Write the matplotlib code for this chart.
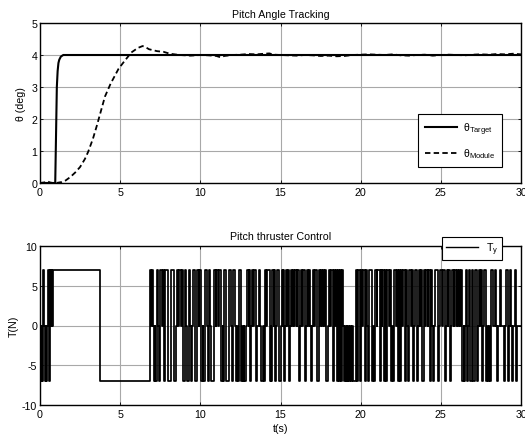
import matplotlib
matplotlib.use("Agg")
import matplotlib.pyplot as plt
from matplotlib.lines import Line2D

plt.rcParams["font.family"] = ["Liberation Sans", "DejaVu Sans"]
plt.rcParams["mathtext.fontset"] = "custom"
plt.rcParams["mathtext.rm"] = "Liberation Sans"
plt.rcParams["mathtext.it"] = "Liberation Sans:italic"
plt.rcParams["axes.unicode_minus"] = False
FS = 7.7
plt.rcParams["font.size"] = FS

# ---------------- pitch angle (deg) ----------------
target_t = [0, 0.95, 1.0, 1.05, 1.1, 1.15, 1.2, 1.3, 1.45, 30]
target_theta = [0, 0, 1.5, 3.0, 3.5, 3.75, 3.85, 3.95, 4.0, 4.0]

module_t = [0, 0.3, 0.45, 0.6, 0.8, 1.0, 1.35, 1.6, 1.9, 2.2, 2.5, 2.8, 3.0,
            3.3, 3.55, 3.8, 4.05, 4.4, 4.9, 5.3, 5.7, 6.1, 6.4, 6.6, 6.8,
            7.3, 7.7, 8.1, 8.7, 9.4, 10.0, 10.5, 11.0, 11.25, 11.5, 12.0,
            12.5, 13.0, 13.5, 14.0, 14.3, 14.6, 15.0, 15.5, 16.0, 16.5, 17.0,
            17.5, 18.0, 18.5, 19.0, 19.5, 20.0, 20.5, 21.0, 21.5, 22.0, 22.5,
            23.0, 23.5, 24.0, 24.5, 25.0, 25.5, 26.0, 26.5, 27.0, 27.5, 28.0,
            28.5, 29.0, 29.5, 30.0]
module_theta = [0, 0.02, 0.06, 0.02, 0.0, 0.0, 0.03, 0.08, 0.19, 0.33, 0.5,
                0.75, 0.97, 1.38, 1.8, 2.25, 2.7, 3.1, 3.57, 3.83, 4.08, 4.22,
                4.28, 4.24, 4.18, 4.12, 4.1, 4.04, 4.0, 3.98, 4.0, 3.99, 3.97,
                3.93, 3.97, 4.0, 4.01, 4.03, 4.02, 4.04, 4.05, 4.01, 4.0, 3.99,
                3.98, 4.0, 3.99, 3.97, 3.98, 3.96, 3.97, 4.0, 4.01, 4.02, 4.01,
                4.0, 4.02, 3.99, 3.98, 4.0, 4.01, 3.98, 4.0, 4.01, 4.0, 3.99,
                4.01, 4.02, 4.01, 4.03, 4.02, 4.04, 4.02]

# ---------------- pitch thruster command (N) ----------------
thrust_level = 7.0
# intervals (on, off) where the thruster fires at +T
thrust_pos = [
    (0.20, 0.27), (0.48, 0.54), (0.60, 0.64), (0.66, 0.70), (0.72, 0.76),
    (0.78, 3.75),
    (6.85, 6.93), (6.97, 7.06), (7.30, 7.37), (7.50, 7.62), (7.66, 7.72),
    (7.80, 7.98), (8.18, 8.34), (8.52, 8.62), (8.66, 8.80), (8.84, 8.95),
    (9.06, 9.13), (9.30, 9.38), (9.52, 9.64), (9.82, 9.90), (9.94, 10.05),
    (10.30, 10.44), (10.56, 10.62), (10.86, 10.95), (11.00, 11.12),
    (11.18, 11.30), (11.50, 11.57), (11.80, 11.94), (12.06, 12.18),
    (12.42, 12.52), (12.94, 13.02), (13.06, 13.10), (13.20, 13.30),
    (13.34, 13.45), (13.66, 13.74), (14.03, 14.12), (14.18, 14.32),
    (14.49, 14.58), (14.62, 14.66), (14.80, 14.88), (15.07, 15.13),
    (15.17, 15.22), (15.32, 15.42), (15.46, 15.53), (15.63, 15.72),
    (15.76, 15.86), (15.90, 16.00), (16.04, 16.15), (16.25, 16.34),
    (16.40, 16.52), (16.66, 16.74), (16.80, 16.87), (17.01, 17.10),
    (17.16, 17.28), (17.39, 17.48), (17.52, 17.60), (17.65, 17.74),
    (17.78, 17.84), (18.01, 18.10), (18.16, 18.25), (18.36, 18.40),
    (18.44, 18.52), (18.56, 18.64), (18.68, 18.78), (18.82, 18.90),
    (19.73, 19.80), (19.86, 19.94), (20.02, 20.08), (20.12, 20.26),
    (20.36, 20.42), (20.52, 20.70), (20.91, 21.00), (21.04, 21.20),
    (21.24, 21.30), (21.36, 21.46), (21.52, 21.60), (21.64, 21.76),
    (21.80, 21.88), (22.10, 22.18), (22.24, 22.34), (22.40, 22.46),
    (22.52, 22.60), (22.64, 22.76), (22.84, 22.92), (23.04, 23.14),
    (23.20, 23.26), (23.40, 23.52), (23.62, 23.72), (23.76, 23.80),
    (23.98, 24.04), (24.10, 24.20), (24.22, 24.30), (24.36, 24.44),
    (24.64, 24.80), (24.94, 25.06), (25.16, 25.26), (25.36, 25.42),
    (25.46, 25.56), (25.72, 25.80), (25.84, 25.94), (25.98, 26.08),
    (26.12, 26.22), (26.26, 26.30), (26.54, 26.62), (26.74, 26.84),
    (26.92, 26.98), (27.14, 27.24), (27.38, 27.46), (27.52, 27.58),
    (27.70, 27.80), (28.16, 28.26), (28.38, 28.44), (28.68, 28.76),
    (29.08, 29.16), (29.34, 29.40), (29.60, 29.70),
]
# intervals (on, off) where the thruster fires at -T
thrust_neg = [
    (0.03, 0.10), (0.12, 0.18), (0.29, 0.36), (0.38, 0.45), (0.54, 0.60),
    (3.75, 6.85),
    (7.08, 7.18), (7.20, 7.28), (7.40, 7.48), (7.72, 7.78), (8.00, 8.14),
    (8.38, 8.48), (8.95, 9.04), (9.15, 9.28), (9.40, 9.50), (9.66, 9.78),
    (10.07, 10.14), (10.18, 10.28), (10.46, 10.54), (10.66, 10.84),
    (11.32, 11.40), (11.44, 11.48), (11.60, 11.78), (11.96, 12.04),
    (12.22, 12.30), (12.34, 12.40), (12.55, 12.62), (12.66, 12.72),
    (12.75, 12.83), (13.10, 13.18), (13.45, 13.55), (13.78, 13.90),
    (13.94, 14.02), (14.32, 14.40), (14.42, 14.48), (14.66, 14.72),
    (14.91, 15.00), (15.22, 15.30), (15.55, 15.61), (16.15, 16.22),
    (16.52, 16.60), (16.88, 16.96), (17.30, 17.38), (17.86, 17.94),
    (18.25, 18.35), (18.52, 18.56), (18.64, 18.68), (18.78, 18.82),
    (18.94, 19.02), (19.06, 19.12), (19.16, 19.24), (19.28, 19.36),
    (19.40, 19.48), (19.52, 19.71), (19.80, 19.86), (19.94, 20.02),
    (20.26, 20.36), (20.44, 20.52), (20.70, 20.80), (20.84, 20.90),
    (21.20, 21.24), (21.46, 21.52), (21.60, 21.64), (21.88, 21.98),
    (22.02, 22.08), (22.34, 22.40), (22.46, 22.52), (22.76, 22.84),
    (22.94, 23.02), (23.26, 23.34), (23.52, 23.60), (23.82, 23.92),
    (24.30, 24.36), (24.52, 24.58), (24.84, 24.90), (25.26, 25.34),
    (25.56, 25.64), (26.30, 26.42), (26.46, 26.50), (26.62, 26.72),
    (26.84, 26.92), (27.00, 27.12), (27.26, 27.34), (27.58, 27.66),
    (27.82, 27.90), (27.94, 28.02), (28.06, 28.14), (28.48, 28.56),
    (28.92, 28.98), (29.20, 29.28), (29.44, 29.50), (29.70, 29.76),
]
t_final = 30.0


def thrust_steps(pos, neg, level, t_end):
    events = sorted([(a, b, level) for a, b in pos] +
                    [(a, b, -level) for a, b in neg])
    ts, ys = [0.0], [0.0]
    for a, b, lv in events:
        ts += [a, b]
        ys += [lv, 0.0]
    ts.append(t_end)
    ys.append(0.0)
    return ts, ys


def matlab_axes(ax):
    ax.grid(True, color="#a8a8a8", linewidth=0.8)
    ax.set_axisbelow(True)
    ax.tick_params(direction="in", top=True, right=True, length=2.5,
                   width=0.6, labelsize=FS, pad=2)
    ax.tick_params(axis="x", pad=3)
    for sp in ax.spines.values():
        sp.set_linewidth(1.0)
        sp.set_color("black")


fig = plt.figure(figsize=(5.25, 4.35), dpi=100)
ax1 = fig.add_axes([40 / 525, 1 - 184 / 435, 481 / 525, 160 / 435])
ax2 = fig.add_axes([40 / 525, 1 - 406 / 435, 481 / 525, 159 / 435])

# --- pitch angle tracking ---
ax1.plot(target_t, target_theta, color="black", linewidth=1.5,
         label="θ$_{\\rm Target}$")
ax1.plot(module_t, module_theta, color="black", linewidth=1.3,
         linestyle=(0, (3.0, 1.8)), label="θ$_{\\rm Module}$")
ax1.set_xlim(0, 30)
ax1.set_ylim(0, 5)
ax1.set_xticks([0, 5, 10, 15, 20, 25, 30])
ax1.set_yticks([0, 1, 2, 3, 4, 5])
ax1.set_ylabel("θ (deg)", labelpad=4)
ax1.set_title("Pitch Angle Tracking", fontsize=FS, pad=4)
matlab_axes(ax1)
leg1 = ax1.legend(loc="lower right", bbox_to_anchor=(0.971, 0.069),
                  fancybox=False, edgecolor="black", framealpha=1,
                  handlelength=3.0, handletextpad=0.6, labelspacing=0.9,
                  borderpad=0.6, fontsize=FS)
leg1.get_frame().set_linewidth(0.8)

# --- pitch thruster control ---
ts, ys = thrust_steps(thrust_pos, thrust_neg, thrust_level, t_final)
ax2.plot(ts, ys, color="black", linewidth=1.25, drawstyle="steps-post",
         label="T$_{\\rm y}$")
ax2.set_xlim(0, 30)
ax2.set_ylim(-10, 10)
ax2.set_xticks([0, 5, 10, 15, 20, 25, 30])
ax2.set_yticks([-10, -5, 0, 5, 10])
ax2.set_ylabel("T(N)", labelpad=2)
ax2.set_xlabel("t(s)", labelpad=3)
ax2.set_title("Pitch thruster Control", fontsize=FS, pad=5)
matlab_axes(ax2)
leg2 = ax2.legend(handles=[Line2D([], [], color="black", linewidth=1.0)],
                  labels=["T$_{\\rm y}$"], loc="upper right",
                  bbox_to_anchor=(0.971, 1.088), fancybox=False,
                  edgecolor="black", framealpha=1, handlelength=3.0,
                  borderpad=0.3, fontsize=FS)
leg2.get_frame().set_linewidth(0.8)
leg2.set_zorder(5)

fig.savefig("out.png", dpi=100)
